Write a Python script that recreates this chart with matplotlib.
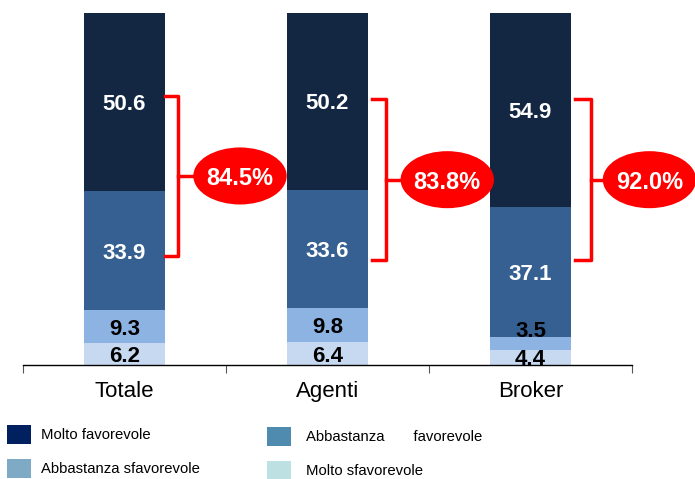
#!/usr/bin/env python3
"""Stacked bars: opinion distribution for Totale / Agenti / Broker."""

import matplotlib
matplotlib.use("Agg")
import matplotlib.pyplot as plt
from matplotlib.patches import Ellipse, Rectangle

plt.rcParams["font.family"] = ["Liberation Sans", "DejaVu Sans"]

# data, bottom segment first
categories = ["Totale", "Agenti", "Broker"]
molto_sfav = [6.2, 6.4, 4.4]
abb_sfav = [9.3, 9.8, 3.5]
abb_fav = [33.9, 33.6, 37.1]
molto_fav = [50.6, 50.2, 54.9]
favorevoli_tot = ["84.5%", "83.8%", "92.0%"]

legend_labels = ["Molto favorevole", "Abbastanza       favorevole",
                 "Abbastanza sfavorevole", "Molto sfavorevole"]

bar_colors = ["#C6D9F1", "#8DB3E2", "#366092", "#132743"]
text_colors = ["black", "black", "white", "white"]
legend_colors = ["#002060", "#4F8BAE", "#7FAAC6", "#BDE0E3"]

W, H = 695, 479
fig = plt.figure(figsize=(W / 100, H / 100), dpi=100)
ax = fig.add_axes([23 / W, (H - 365) / H, 609 / W, 352 / H])

series = [molto_sfav, abb_sfav, abb_fav, molto_fav]
x = list(range(len(categories)))
bottoms = [0.0] * len(categories)
for seg, vals in enumerate(series):
    ax.bar(x, vals, width=0.4, bottom=bottoms, color=bar_colors[seg],
           edgecolor="none", zorder=2)
    for i, v in enumerate(vals):
        y = bottoms[i] + v / 2
        if v < 4 and bottoms[i] > 0:
            y += 4  # small segment: label sits above
        ax.text(i, y, f"{v:.1f}", ha="center", va="center_baseline",
                color=text_colors[seg], fontsize=16, fontweight="bold", zorder=3)
    bottoms = [b + v for b, v in zip(bottoms, vals)]

ax.set_xlim(-0.5, 2.5)
ax.set_ylim(0, 100)
for s in ["top", "right", "left"]:
    ax.spines[s].set_visible(False)
ax.spines["bottom"].set_linewidth(1.0)
ax.set_yticks([])
ax.set_xticks([-0.5, 0.5, 1.5, 2.5])
ax.set_xticklabels([])
ax.tick_params(axis="x", length=6, width=0.8, direction="out", color="#555555")
for i, c in enumerate(categories):
    ax.text(i, -4.5, c, ha="center", va="top", fontsize=16)

# red braces with ellipse badges
brace_specs = [(0.20, 0.264, 76.5, 30.9, 0.569),
               (0.22, 0.286, 75.6, 29.7, 0.59),
               (0.22, 0.296, 75.6, 29.7, 0.586)]
for i, (x0, x1, ytop, ybot, xc) in enumerate(brace_specs):
    ymid = (ytop + ybot) / 2
    ax.plot([i + x0, i + x1, i + x1, i + x0], [ytop, ytop, ybot, ybot],
            color="#FF0000", lw=2.5, solid_joinstyle="round", clip_on=False, zorder=4)
    ax.plot([i + x1, i + x1 + 0.07], [ymid, ymid], color="#FF0000", lw=2.5,
            clip_on=False, zorder=4)
    ax.add_patch(Ellipse((i + xc, ymid), 0.46, 16.2, facecolor="#FF0000",
                         edgecolor="none", clip_on=False, zorder=5))
    ax.text(i + xc, ymid, favorevoli_tot[i], ha="center", va="center_baseline",
            color="white", fontsize=17, fontweight="bold", zorder=6)

# legend drawn by hand, two columns
leg_pos = [(7, 425), (267, 427), (7, 459), (267, 461)]
for (px, py), lab, col in zip(leg_pos, legend_labels, legend_colors):
    fig.patches.append(Rectangle((px / W, 1 - (py + 19) / H), 24 / W, 19 / H,
                                 transform=fig.transFigure, facecolor=col,
                                 edgecolor="none"))
    tx = 41 if px < 100 else 306
    fig.text(tx / W, 1 - (py + 10) / H, lab, ha="left", va="center", fontsize=10.7)

fig.savefig("out.png", dpi=100)
